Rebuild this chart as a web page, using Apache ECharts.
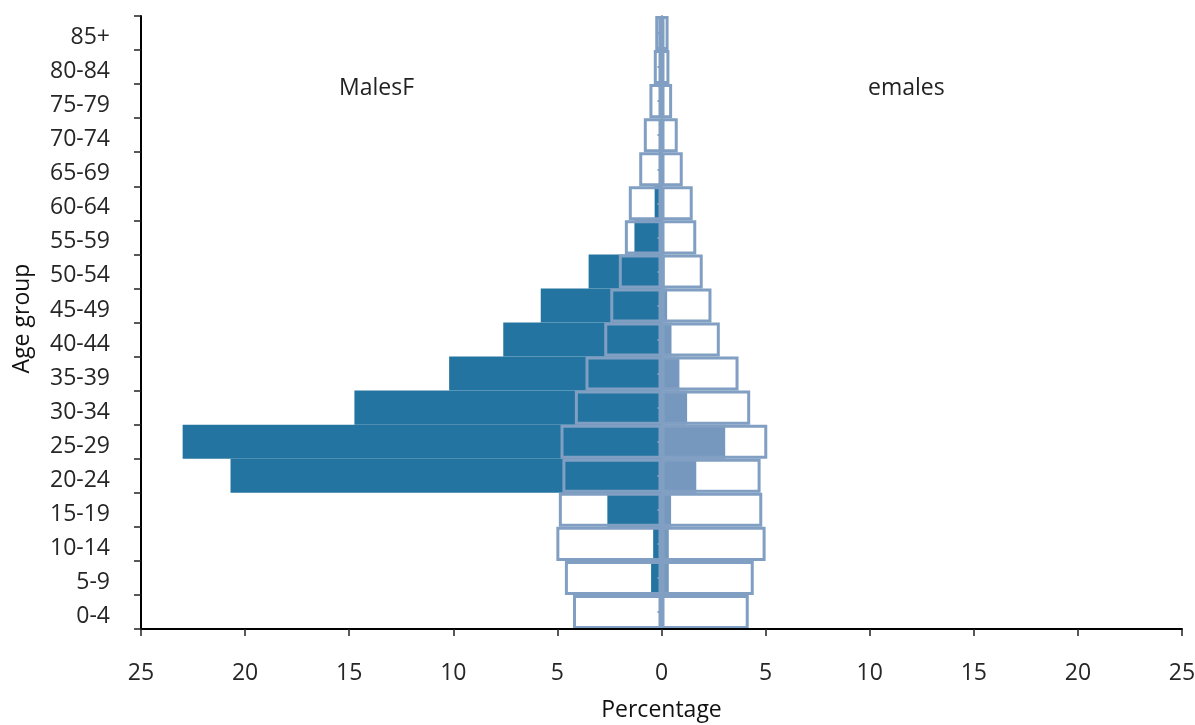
<!DOCTYPE html>
<html>
<head>
<meta charset="utf-8">
<script src="https://cdn.jsdelivr.net/npm/echarts@6/dist/echarts.min.js"></script>
<style>
html,body{margin:0;padding:0;background:#fff;}
#chart{width:1195px;height:725px;}
</style>
</head>
<body>
<div id="chart"></div>
<script>
const categories = ['0-4','5-9','10-14','15-19','20-24','25-29','30-34','35-39','40-44','45-49','50-54','55-59','60-64','65-69','70-74','75-79','80-84','85+'];
const xTicks = [-25,-20,-15,-10,-5,0,5,10,15,20,25];
const malesFilled = [0, 0.5, 0.4, 2.6, 20.7, 23.0, 14.75, 10.2, 7.6, 5.8, 3.5, 1.3, 0.33, 0.12, 0, 0, 0, 0];
const femalesFilled = [0.05, 0.35, 0.35, 0.46, 1.67, 3.06, 1.23, 0.86, 0.48, 0.27, 0.15, 0.08, 0.05, 0.05, 0.03, 0.03, 0.02, 0.02];
const malesOutline = [4.25, 4.64, 5.05, 4.93, 4.76, 4.85, 4.16, 3.65, 2.75, 2.46, 2.05, 1.76, 1.57, 1.07, 0.85, 0.58, 0.37, 0.3];
const femalesOutline = [4.19, 4.43, 5.0, 4.84, 4.76, 5.08, 4.26, 3.7, 2.8, 2.4, 1.98, 1.67, 1.5, 1.02, 0.78, 0.51, 0.38, 0.34];
const leftText = 'MalesF';
const rightText = 'emales';

const FONT = '"Open Sans", "Noto Sans", sans-serif';
const DARK = '#2474a1';
const LIGHT = '#7698bf';
const EDGE = '#819fc2';

const chart = echarts.init(document.getElementById('chart'), null, {renderer: 'canvas'});
const neg = a => a.map(v => -v);
const barBase = {type: 'bar', barWidth: '100%', barGap: '-100%', barCategoryGap: 0, animation: false, silent: true};

chart.setOption({
  animation: false,
  textStyle: {fontFamily: FONT},
  grid: {left: 141, right: 13, top: 16, bottom: 96, containLabel: false, outerBoundsMode: 'none'},
  xAxis: {
    type: 'value', min: -25, max: 25, interval: 5, z: 5,
    axisLine: {show: true, lineStyle: {color: '#000', width: 2}},
    axisTick: {show: true, length: 7, lineStyle: {color: '#222', width: 1.5}},
    splitLine: {show: false},
    axisLabel: {margin: 33, fontSize: 23, color: '#262626', fontFamily: FONT,
      customValues: xTicks,
      formatter: v => String(Math.abs(v))},
    name: 'Percentage', nameLocation: 'middle', nameGap: 70,
    nameTextStyle: {fontSize: 23, color: '#111', fontFamily: FONT}
  },
  yAxis: [{
    type: 'category', data: categories, z: 5,
    axisLine: {show: true, onZero: false, lineStyle: {color: '#000', width: 2}},
    axisTick: {show: true, length: 7, lineStyle: {color: '#222', width: 1.5}},
    axisLabel: {margin: 31, fontSize: 23, color: '#262626', fontFamily: FONT,
      formatter: v => '{a|' + v + '}',
      rich: {a: {fontSize: 23, color: '#262626', fontFamily: FONT, padding: [9, 0, 0, 0]}}},
    name: 'Age group', nameLocation: 'middle', nameGap: 107, nameRotate: 90,
    nameTextStyle: {fontSize: 23, color: '#111', fontFamily: FONT, padding: [0, 0, 0, 8]}
  }, {
    type: 'category', data: categories, position: 'left', z: 4,
    axisLine: {show: true, onZero: true, lineStyle: {color: EDGE, width: 2}},
    axisTick: {show: true, alignWithLabel: true, length: 4, lineStyle: {color: EDGE, width: 2}},
    axisLabel: {show: false}
  }],
  series: [
    Object.assign({}, barBase, {name: 'Males', data: neg(malesFilled), itemStyle: {color: DARK}}),
    Object.assign({}, barBase, {name: 'Females', data: femalesFilled, itemStyle: {color: LIGHT}}),
    Object.assign({}, barBase, {name: 'Males ref', data: neg(malesOutline), z: 3,
      itemStyle: {color: 'rgba(0,0,0,0)', borderColor: EDGE, borderWidth: 3}}),
    Object.assign({}, barBase, {name: 'Females ref', data: femalesOutline, z: 3,
      itemStyle: {color: 'rgba(0,0,0,0)', borderColor: EDGE, borderWidth: 3}})
  ],
  graphic: [
    {type: 'text', left: 339, top: 77, silent: true,
      style: {text: leftText, font: '23px ' + FONT, fill: '#222'}},
    {type: 'text', left: 868, top: 77, silent: true,
      style: {text: rightText, font: '23px ' + FONT, fill: '#222'}}
  ]
});
</script>
</body>
</html>
